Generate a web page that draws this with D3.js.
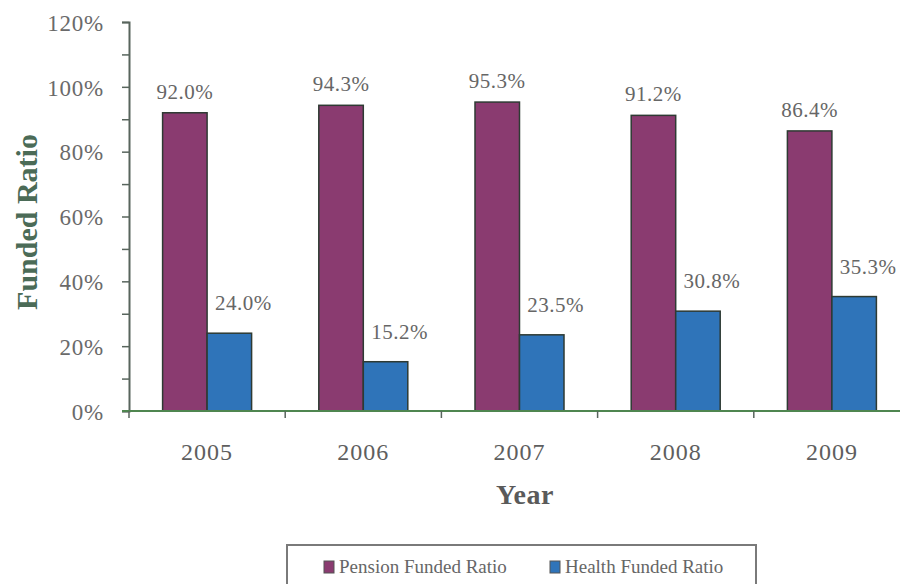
<!DOCTYPE html>
<html>
<head>
<meta charset="utf-8">
<script src="https://cdn.jsdelivr.net/npm/d3@7"></script>
<style>
  body { margin: 0; background: #fff; }
  svg { display: block; font-family: "Liberation Serif", "Times New Roman", serif; }
</style>
</head>
<body>
<svg id="chart" width="900" height="584"></svg>
<script>
// Data
const years = ["2005", "2006", "2007", "2008", "2009"];
const series = ["Pension Funded Ratio", "Health Funded Ratio"];
const pension = [92.0, 94.3, 95.3, 91.2, 86.4];
const health = [24.0, 15.2, 23.5, 30.8, 35.3];
const yTicks = [0, 10, 20, 30, 40, 50, 60, 70, 80, 90, 100, 110, 120];
const colors = ["#8a3b70", "#2f74b9"];

const svg = d3.select("#chart");

// Scales
const x0 = d3.scaleBand().domain(years).range([129, 910]).paddingInner(0);
const x1 = d3.scaleBand().domain(series).range([0, x0.bandwidth()]).paddingInner(0).paddingOuter(0.755);
const y = d3.scaleLinear().domain([0, 120]).range([411, 22]);

// Y axis
const yAxis = d3.axisLeft(y)
  .tickValues(yTicks)
  .tickSize(7)
  .tickPadding(18)
  .tickFormat(d => d % 20 === 0 ? d + "%" : "");

const gy = svg.append("g")
  .attr("transform", "translate(129,0)")
  .call(yAxis);
gy.select(".domain").attr("stroke", "#58655d").attr("stroke-width", 2);
gy.selectAll(".tick line").attr("stroke", "#58655d").attr("stroke-width", 1.5);
gy.selectAll(".tick text")
  .attr("font-family", "Liberation Serif, Times New Roman, serif")
  .attr("font-size", 23)
  .attr("letter-spacing", 0.8)
  .attr("fill", "#6a6a6a")
  .attr("dy", "0.36em");

// Bars
const rows = years.map((yr, i) => ({ year: yr, values: [pension[i], health[i]] }));

const group = svg.append("g").selectAll("g")
  .data(rows)
  .join("g")
  .attr("transform", d => `translate(${x0(d.year)},0)`);

group.selectAll("rect")
  .data(d => d.values.map((v, j) => ({ key: series[j], value: v, j })))
  .join("rect")
  .attr("x", d => x1(d.key))
  .attr("y", d => y(d.value))
  .attr("width", x1.bandwidth())
  .attr("height", d => y(0) - y(d.value))
  .attr("fill", d => colors[d.j])
  .attr("stroke", "#2e3a33")
  .attr("stroke-width", 1.5);

// Value labels
group.selectAll("text.val")
  .data(d => d.values.map((v, j) => ({ key: series[j], value: v, j })))
  .join("text")
  .attr("class", "val")
  .attr("x", d => x1(d.key) + x1.bandwidth() / 2 + (d.j === 1 ? 14 : 0))
  .attr("y", d => y(d.value) - (d.j === 1 ? 23 : 14))
  .attr("text-anchor", "middle")
  .attr("font-size", 21)
  .attr("letter-spacing", 0.5)
  .attr("fill", "#666")
  .text(d => d.value.toFixed(1) + "%");

// X axis baseline and ticks
svg.append("line")
  .attr("x1", 122).attr("x2", 900)
  .attr("y1", y(0)).attr("y2", y(0))
  .attr("stroke", "#4f8650").attr("stroke-width", 2);

const boundaries = years.map(yr => x0(yr)).concat([x0.range()[1]]);
svg.append("g").selectAll("line")
  .data(boundaries)
  .join("line")
  .attr("x1", d => d).attr("x2", d => d)
  .attr("y1", y(0)).attr("y2", y(0) + 7)
  .attr("stroke", "#58655d").attr("stroke-width", 1.5);

// Year labels
svg.append("g").selectAll("text")
  .data(years)
  .join("text")
  .attr("x", d => x0(d) + x0.bandwidth() / 2)
  .attr("y", 460)
  .attr("text-anchor", "middle")
  .attr("font-size", 24)
  .attr("letter-spacing", 1)
  .attr("fill", "#5e5e5e")
  .text(d => d);

// Axis titles
svg.append("text")
  .attr("x", 525)
  .attr("y", 504)
  .attr("text-anchor", "middle")
  .attr("font-size", 28)
  .attr("font-weight", "bold")
  .attr("letter-spacing", 0.5)
  .attr("fill", "#5a5a5a")
  .text("Year");

svg.append("text")
  .attr("transform", "translate(37,222) rotate(-90)")
  .attr("text-anchor", "middle")
  .attr("font-size", 30)
  .attr("font-weight", "bold")
  .attr("fill", "#4b6b57")
  .text("Funded Ratio");

// Legend
const legend = svg.append("g");
legend.append("rect")
  .attr("x", 287).attr("y", 545)
  .attr("width", 469).attr("height", 60)
  .attr("fill", "#fff")
  .attr("stroke", "#7a7a7a")
  .attr("stroke-width", 2);

const legendX = [324, 550];
const items = legend.selectAll("g")
  .data(series)
  .join("g")
  .attr("transform", (d, i) => `translate(${legendX[i]},561)`);

items.append("rect")
  .attr("width", 10).attr("height", 12)
  .attr("fill", (d, i) => colors[i])
  .attr("stroke", "#555")
  .attr("stroke-width", 1);

items.append("text")
  .attr("x", 15)
  .attr("y", 12)
  .attr("font-size", 19)
  .attr("fill", "#666")
  .text(d => d);
</script>
</body>
</html>
